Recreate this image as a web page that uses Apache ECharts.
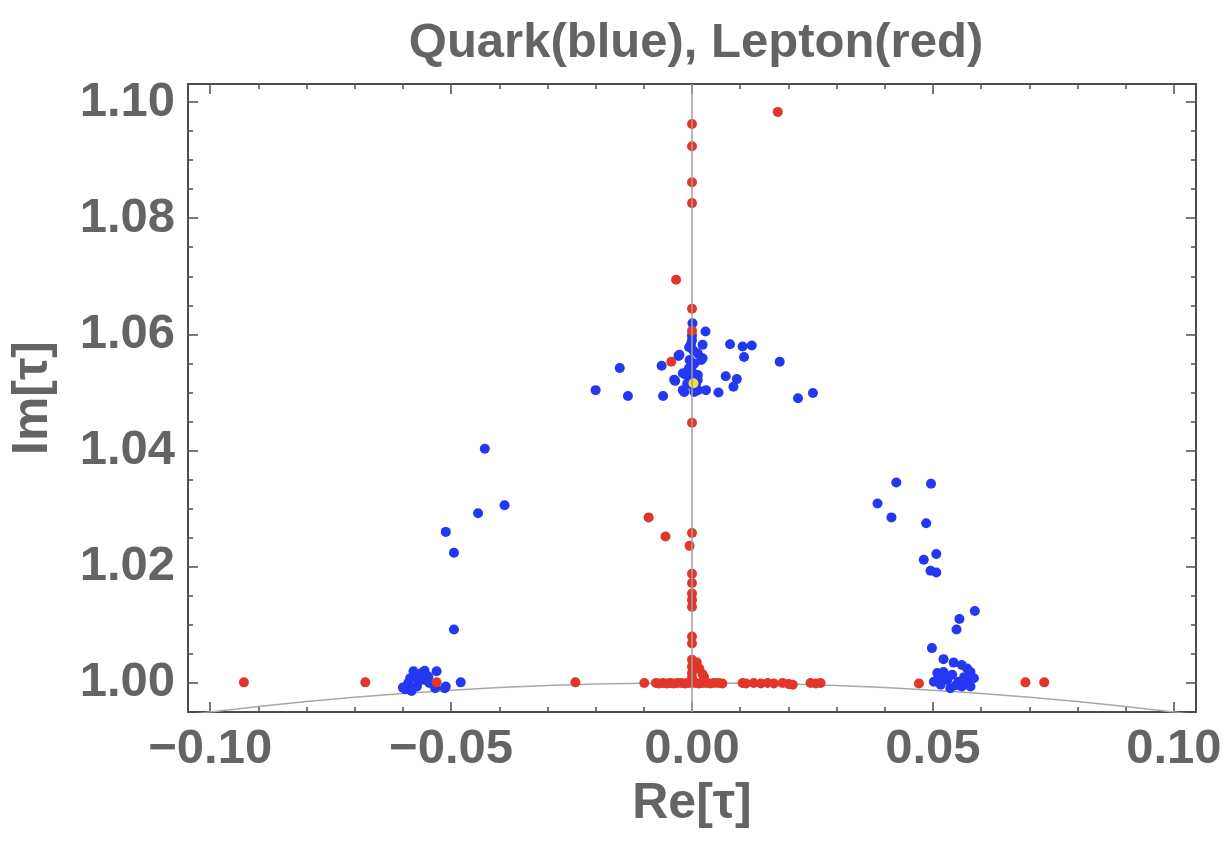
<!DOCTYPE html>
<html>
<head>
<meta charset="utf-8">
<script src="https://cdn.jsdelivr.net/npm/echarts@6/dist/echarts.min.js"></script>
<style>
  html, body { margin: 0; padding: 0; background: #ffffff; }
  #chart { width: 1229px; height: 852px; }
</style>
</head>
<body>
<div id="chart"></div>
<script>
// Modulus tau points: [Re, Im]
const quarkPoints = [
  // left group
  [-0.0430, 1.0403], [-0.0389, 1.0306], [-0.0444, 1.0292], [-0.0511, 1.0260], [-0.0494, 1.0224],
  [-0.0494, 1.0092], [-0.0480, 1.0001], [-0.0511, 0.9994], [-0.0530, 1.0020], [-0.0595, 0.9989],
  [-0.0582, 0.9986], [-0.0589, 1.0000], [-0.0575, 1.0014], [-0.0561, 1.0017], [-0.0568, 1.0002],
  [-0.0547, 1.0011], [-0.0533, 0.9991], [-0.0513, 0.9991], [-0.0554, 1.0005], [-0.0585, 1.0008],
  [-0.0571, 0.9994], [-0.0578, 1.0020], [-0.0555, 1.0021], [-0.0600, 0.9992], [-0.0545, 1.0000],
  // central group
  [0.0001, 1.0619], [0.0028, 1.0605], [0.0022, 1.0582], [-0.0006, 1.0578], [-0.0028, 1.0563],
  [0.0022, 1.0559], [-0.0063, 1.0546], [-0.0150, 1.0542], [-0.0200, 1.0504], [-0.0133, 1.0494],
  [-0.0060, 1.0494], [-0.0035, 1.0520], [-0.0019, 1.0533], [-0.0016, 1.0501], [0.0012, 1.0522],
  [0.0012, 1.0504], [0.0029, 1.0504], [0.0055, 1.0500], [0.0070, 1.0528], [0.0093, 1.0523],
  [0.0086, 1.0510], [0.0079, 1.0583], [0.0105, 1.0579], [0.0124, 1.0581], [0.0108, 1.0561],
  [0.0182, 1.0553], [0.0220, 1.0490], [0.0251, 1.0499],
  [0.0000, 1.0598], [0.0000, 1.0590], [-0.0002, 1.0584], [0.0012, 1.0567], [0.0019, 1.0556],
  [0.0005, 1.0550], [-0.0006, 1.0542], [0.0000, 1.0536], [-0.0009, 1.0536], [-0.0012, 1.0530],
  [0.0012, 1.0530], [-0.0026, 1.0565], [-0.0037, 1.0522], [-0.0019, 1.0504], [0.0005, 1.0501],
  [-0.0004, 1.0525], [0.0003, 1.0572], [-0.0005, 1.0556], [0.0001, 1.0512], [-0.0010, 1.0515],
  [0.0008, 1.0514],
  // right group
  [0.0424, 1.0345], [0.0496, 1.0343], [0.0385, 1.0309], [0.0414, 1.0285], [0.0486, 1.0275],
  [0.0507, 1.0222], [0.0481, 1.0212], [0.0495, 1.0193], [0.0507, 1.0190], [0.0587, 1.0124],
  [0.0555, 1.0110], [0.0549, 1.0092], [0.0498, 1.0060], [0.0522, 1.0041], [0.0543, 1.0035],
  [0.0571, 1.0025], [0.0560, 1.0031], [0.0578, 1.0019], [0.0509, 1.0017], [0.0522, 1.0019],
  [0.0502, 1.0002], [0.0516, 0.9997], [0.0536, 0.9991], [0.0553, 1.0002], [0.0571, 1.0000],
  [0.0585, 1.0008], [0.0540, 1.0014], [0.0560, 0.9994], [0.0530, 1.0005], [0.0578, 0.9994],
  [0.0548, 0.9996], [0.0565, 1.0010], [0.0512, 1.0010]
];

const leptonPoints = [
  // column on Re = 0
  [0, 1.0962], [0, 1.0924], [0, 1.0862], [0, 1.0826], [0, 1.0644], [0, 1.0606], [0, 1.0448],
  [0, 1.0258], [-0.0005, 1.0236], [0, 1.0188], [0, 1.0172], [0, 1.0154], [0, 1.0143], [0, 1.0131],
  [0, 1.0080], [0, 1.0068], [0, 1.0040], [0, 1.0028], [0, 1.0017], [0, 1.0009], [0, 1.0000],
  [0.0015, 1.0025], [0.0022, 1.0015], [0.0010, 1.0035], [0.0025, 1.0010],
  // scattered
  [0.0178, 1.0983], [-0.0033, 1.0694], [-0.0043, 1.0553], [-0.0090, 1.0285], [-0.0055, 1.0252],
  // row along Im = 1
  [-0.0930, 1.0001], [-0.0678, 1.0001], [-0.0530, 1.0001], [-0.0242, 1.0001], [-0.0099, 1.0000],
  [-0.0075, 1.0000], [-0.0068, 0.9999], [-0.0060, 1.0000], [-0.0052, 0.9999], [-0.0045, 1.0000],
  [-0.0038, 0.9999], [-0.0030, 1.0000], [-0.0022, 1.0000], [-0.0015, 0.9999], [-0.0008, 1.0000],
  [0.0008, 1.0000], [0.0015, 0.9999], [0.0022, 1.0000], [0.0030, 1.0000], [0.0038, 0.9999],
  [0.0046, 1.0000], [0.0055, 1.0000], [0.0063, 0.9999], [0.0105, 1.0000], [0.0112, 0.9999],
  [0.0128, 1.0000], [0.0143, 0.9999], [0.0157, 1.0000], [0.0170, 0.9999], [0.0188, 1.0000],
  [0.0201, 0.9998], [0.0209, 0.9997], [0.0246, 1.0000], [0.0257, 0.9999], [0.0267, 1.0000],
  [0.0471, 0.9999], [0.0692, 1.0001], [0.0731, 1.0001]
];

const centerPoint = [[0.0003, 1.0516]];

// |tau| = 1 boundary arc
const boundaryRe = [-0.105, -0.10, -0.09, -0.08, -0.07, -0.06, -0.05, -0.04, -0.03, -0.02, -0.01, 0,
                    0.01, 0.02, 0.03, 0.04, 0.05, 0.06, 0.07, 0.08, 0.09, 0.10, 0.105];
const boundaryIm = [0.99447, 0.99499, 0.99594, 0.99679, 0.99755, 0.99820, 0.99875, 0.99920, 0.99955,
                    0.99980, 0.99995, 1.00000, 0.99995, 0.99980, 0.99955, 0.99920, 0.99875, 0.99820,
                    0.99755, 0.99679, 0.99594, 0.99499, 0.99447];

const xMajorTicks = [-0.10, -0.05, 0, 0.05, 0.10];
const xTickLabels = ['\u22120.10', '\u22120.05', '0.00', '0.05', '0.10'];
const xMinorTicks = [-0.09, -0.08, -0.07, -0.06, -0.04, -0.03, -0.02, -0.01,
                     0.01, 0.02, 0.03, 0.04, 0.06, 0.07, 0.08, 0.09];
const yMajorTicks = [1.00, 1.02, 1.04, 1.06, 1.08, 1.10];
const yTickLabels = ['1.00', '1.02', '1.04', '1.06', '1.08', '1.10'];
const yMinorTicks = [1.005, 1.01, 1.015, 1.025, 1.03, 1.035, 1.045, 1.05, 1.055,
                     1.065, 1.07, 1.075, 1.085, 1.09, 1.095];

const X_MIN = -0.1046, X_MAX = 0.1046, Y_MIN = 0.995, Y_MAX = 1.1031;
const FONT = 'Liberation Sans, Arial, sans-serif';
const TEXT_GRAY = '#646464';
const FRAME_GRAY = '#4d4d4d';

function labelFor(values, labels) {
  return function (v) {
    for (let i = 0; i < values.length; i++) {
      if (Math.abs(values[i] - v) < 1e-9) return labels[i];
    }
    return '';
  };
}

function makeAxis(kind, position, ticks, len, withLabels) {
  const isX = kind === 'x';
  const ax = {
    type: 'value',
    position: position,
    min: isX ? X_MIN : Y_MIN,
    max: isX ? X_MAX : Y_MAX,
    axisLine: { show: false, onZero: false },
    splitLine: { show: false },
    axisTick: {
      show: true, inside: true, length: len, customValues: ticks,
      lineStyle: { color: FRAME_GRAY, width: 1.5 }
    },
    axisLabel: { show: false },
    axisPointer: { show: false }
  };
  if (withLabels) {
    ax.axisLabel = {
      show: true,
      customValues: ticks,
      formatter: isX ? labelFor(xMajorTicks, xTickLabels) : labelFor(yMajorTicks, yTickLabels),
      fontFamily: FONT, fontWeight: 'bold', fontSize: 49, color: TEXT_GRAY,
      margin: 13
    };
    ax.name = isX ? 'Re[\u03c4]' : 'Im[\u03c4]';
    ax.nameLocation = 'middle';
    ax.nameGap = isX ? 66 : 130;
    ax.nameTextStyle = { fontFamily: FONT, fontWeight: 'bold', fontSize: 50, color: TEXT_GRAY };
  }
  return ax;
}

const chart = echarts.init(document.getElementById('chart'), null, { renderer: 'canvas' });

chart.setOption({
  animation: false,
  backgroundColor: '#ffffff',
  title: {
    text: 'Quark(blue), Lepton(red)',
    left: 691,
    top: 14,
    textAlign: 'center',
    textStyle: { fontFamily: FONT, fontWeight: 'bold', fontSize: 49, color: TEXT_GRAY }
  },
  grid: {
    left: 186, right: 33, top: 84, bottom: 140,
    show: true, borderColor: FRAME_GRAY, borderWidth: 2, backgroundColor: 'transparent'
  },
  xAxis: [
    makeAxis('x', 'bottom', xMajorTicks, 10, true),
    makeAxis('x', 'bottom', xMinorTicks, 5, false),
    makeAxis('x', 'top', xMajorTicks, 10, false),
    makeAxis('x', 'top', xMinorTicks, 5, false)
  ],
  yAxis: [
    makeAxis('y', 'left', yMajorTicks, 10, true),
    makeAxis('y', 'left', yMinorTicks, 5, false),
    makeAxis('y', 'right', yMajorTicks, 10, false),
    makeAxis('y', 'right', yMinorTicks, 5, false)
  ],
  series: [
    {
      type: 'line',
      name: 'boundary',
      data: boundaryRe.map((x, i) => [x, boundaryIm[i]]),
      showSymbol: false,
      smooth: false,
      clip: true,
      silent: true,
      lineStyle: { color: '#a8a8a8', width: 1.5 },
      markLine: {
        silent: true,
        symbol: ['none', 'none'],
        label: { show: false },
        lineStyle: { color: '#a0a0a0', width: 1.5, type: 'solid' },
        data: [{ xAxis: 0 }]
      },
      z: 1
    },
    {
      type: 'scatter',
      name: 'Quark',
      data: quarkPoints,
      symbol: 'circle',
      symbolSize: 10,
      itemStyle: { color: '#2438f2', opacity: 1 },
      z: 2
    },
    {
      type: 'scatter',
      name: 'Lepton',
      data: leptonPoints,
      symbol: 'circle',
      symbolSize: 10,
      itemStyle: { color: '#e2362a', opacity: 1 },
      z: 3
    },
    {
      type: 'scatter',
      name: 'center',
      data: centerPoint,
      symbol: 'circle',
      symbolSize: 10,
      itemStyle: { color: '#ece33a', opacity: 1 },
      z: 4
    }
  ]
});
</script>
</body>
</html>
